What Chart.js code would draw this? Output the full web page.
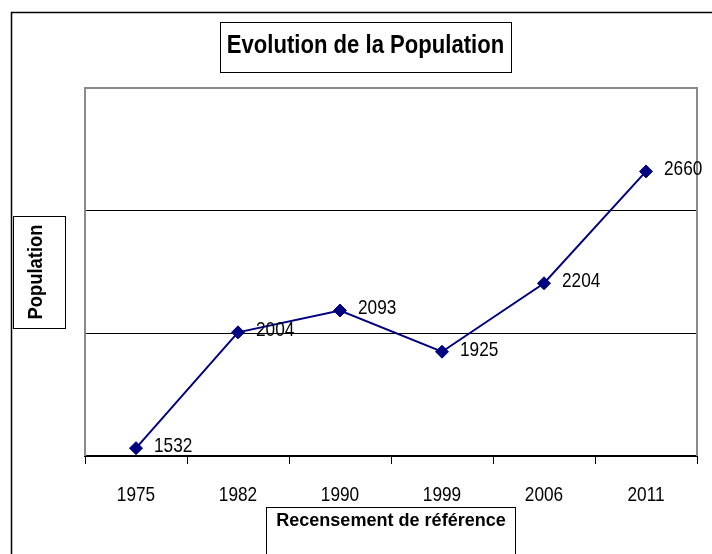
<!DOCTYPE html>
<html>
<head>
<meta charset="utf-8">
<script src="https://cdn.jsdelivr.net/npm/chart.js@4.4.1/dist/chart.umd.min.js"></script>
<style>
  html, body { margin: 0; padding: 0; background: #fff; }
  canvas { display: block; }
</style>
</head>
<body>
<canvas id="chart" width="712" height="554"></canvas>
<script>
// data
const years = ['1975', '1982', '1990', '1999', '2006', '2011'];
const population = [1532, 2004, 2093, 1925, 2204, 2660];
const yTicks = [1500, 2000, 2500, 3000];

const chartTitle = 'Evolution de la Population';
const xTitle = 'Recensement de référence';
const yTitle = 'Population';

// the original uses Arial Narrow; no narrow face here, so squeeze Liberation Sans
const FONT = "'Liberation Sans', Arial, sans-serif";
const NAVY = '#000080';

function narrowText(ctx, text, x, y, font, sx, align, rotate) {
    ctx.save();
    ctx.fillStyle = '#000';
    ctx.font = font;
    ctx.textAlign = align;
    ctx.textBaseline = 'middle';
    ctx.translate(x, y);
    if (rotate) ctx.rotate(-Math.PI / 2);
    ctx.scale(sx, 1);
    ctx.fillText(text, 0, 0);
    ctx.restore();
}

function box(ctx, x0, y0, x1, y1) {
    ctx.save();
    ctx.fillStyle = '#fff';
    ctx.fillRect(x0, y0, x1 - x0, y1 - y0);
    ctx.strokeStyle = '#000';
    ctx.lineWidth = 1;
    ctx.strokeRect(x0 + 0.5, y0 + 0.5, x1 - x0, y1 - y0);
    ctx.restore();
}

// frame, plot border, boxed titles and category labels (Excel style)
const framePlugin = {
    id: 'frame',
    beforeDatasetsDraw(chart) {
        const ctx = chart.ctx;
        const a = chart.chartArea;
        ctx.save();
        // outer chart border, cut off at right and bottom
        ctx.strokeStyle = '#000';
        ctx.lineWidth = 1.5;
        ctx.strokeRect(11.5, 12.5, chart.width + 20, chart.height + 20);
        // plot area border
        ctx.strokeStyle = '#8a8a8a';
        ctx.lineWidth = 2;
        ctx.beginPath();
        ctx.moveTo(a.left, a.bottom);
        ctx.lineTo(a.left, a.top);
        ctx.lineTo(a.right, a.top);
        ctx.lineTo(a.right, a.bottom);
        ctx.stroke();
        ctx.restore();

        const midX = (a.left + a.right) / 2;
        const midY = (a.top + a.bottom) / 2;

        box(ctx, 220, 22, 511, 72);
        narrowText(ctx, chartTitle, 365.5, 46, 'bold 26px ' + FONT, 0.85, 'center', false);

        box(ctx, 13, midY - 56, 65, midY + 56);
        narrowText(ctx, yTitle, 36, midY, 'bold 21px ' + FONT, 0.875, 'center', true);

        box(ctx, midX - 125, 507, midX + 124, chart.height + 20);
        narrowText(ctx, xTitle, midX, 520.5, 'bold 19px ' + FONT, 0.95, 'center', false);

        const xs = chart.scales.x;
        years.forEach((y, i) => {
            narrowText(ctx, y, xs.getPixelForTick(i), a.bottom + 39, '21px ' + FONT, 0.82, 'center', false);
        });
    }
};

// value labels to the right of each point
const valueLabels = {
    id: 'valueLabels',
    afterDatasetsDraw(chart) {
        const meta = chart.getDatasetMeta(0);
        meta.data.forEach((pt, i) => {
            narrowText(chart.ctx, String(population[i]), pt.x + 18, pt.y - 2, '21px ' + FONT, 0.82, 'left', false);
        });
    }
};

const yMin = yTicks[0];
const yMax = yTicks[yTicks.length - 1];

new Chart(document.getElementById('chart'), {
    type: 'line',
    data: {
        labels: years,
        datasets: [{
            data: population,
            borderColor: NAVY,
            backgroundColor: NAVY,
            borderWidth: 2,
            pointStyle: 'rectRot',
            pointRadius: 6.5,
            pointBorderWidth: 1,
            pointBackgroundColor: NAVY,
            pointBorderColor: NAVY,
            tension: 0,
            fill: false
        }]
    },
    options: {
        responsive: false,
        devicePixelRatio: 1,
        animation: false,
        layout: { padding: { top: 88, right: 15, left: 0, bottom: 0 } },
        plugins: {
            legend: { display: false },
            tooltip: { enabled: false },
            title: { display: false }
        },
        scales: {
            x: {
                type: 'category',
                offset: true,
                afterFit: scale => { scale.height = 98; },
                grid: {
                    offset: true,
                    drawOnChartArea: false,
                    drawTicks: true,
                    tickLength: 8,
                    color: '#000',
                    lineWidth: 1
                },
                border: { display: true, color: '#000', width: 2 },
                ticks: { display: false, autoSkip: false, maxRotation: 0 }
            },
            y: {
                min: yMin,
                max: yMax,
                afterFit: scale => { scale.width = 85; },
                afterBuildTicks: scale => { scale.ticks = yTicks.map(v => ({ value: v })); },
                ticks: { display: false },
                grid: {
                    drawTicks: false,
                    lineWidth: 1,
                    color: c => (c.tick && c.tick.value > yMin && c.tick.value < yMax) ? '#000' : 'rgba(0,0,0,0)'
                },
                border: { display: false }
            }
        }
    },
    plugins: [framePlugin, valueLabels]
});
</script>
</body>
</html>
